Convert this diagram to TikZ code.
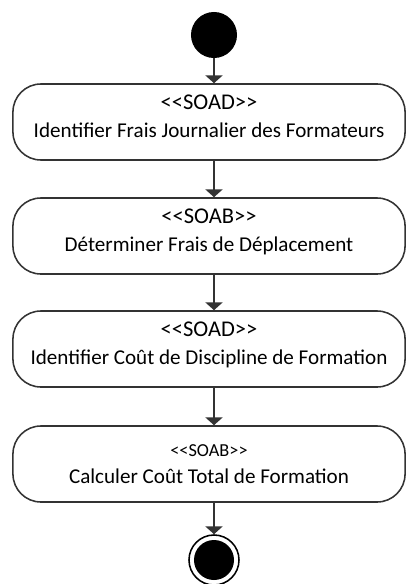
\documentclass[tikz,border=0pt]{standalone}
\usepackage{fontspec}
\setmainfont{Carlito}
\usetikzlibrary{arrows.meta, positioning}
\colorlet{linegray}{black!80}
\newcommand{\stereo}[1]{{<}{<}#1{>}{>}}

\begin{document}
\begin{tikzpicture}[x=0.025cm, y=-0.025cm, >={Triangle[width=12pt, length=5.5pt]},
    activity/.style={draw=linegray, line width=1.1pt, rounded corners=0.7cm,
      minimum width=9.8cm, minimum height=1.9cm, align=center, inner sep=0pt},
    flow/.style={->, draw=linegray, line width=1.1pt}]
    \useasboundingbox (0,0) rectangle (408,584);

    \node[circle, fill=black, minimum size=1.15cm, inner sep=0pt] (debut) at (214,35) {};

    \node[activity] (soad1) at (209,122)
      {\fontsize{16}{16}\selectfont \stereo{SOAD}\\[8pt] \fontsize{15}{15}\selectfont Identifier Frais Journalier des Formateurs\\[-4pt]};
    \node[activity] (soab1) at (209,236)
      {\fontsize{16}{16}\selectfont \stereo{SOAB}\\[8pt] \fontsize{15}{15}\selectfont Déterminer Frais de Déplacement\\[-4pt]};
    \node[activity] (soad2) at (209,349)
      {\fontsize{16}{16}\selectfont \stereo{SOAD}\\[8pt] \fontsize{15}{15}\selectfont Identifier Coût de Discipline de Formation\\[-4pt]};
    \node[activity] (soab2) at (209,464)
      {\fontsize{13}{13}\selectfont \stereo{SOAB}\\[7pt] \fontsize{15}{15}\selectfont Calculer Coût Total de Formation};

    \node[circle, draw=black, line width=1.1pt, minimum size=1.25cm, inner sep=0pt,
      path picture={\fill (path picture bounding box.center) circle (0.5cm);}] (fin) at (214,560) {};

    \draw[flow] (debut) -- (debut |- soad1.north);
    \draw[flow] (soad1.south -| debut) -- (soab1.north -| debut);
    \draw[flow] (soab1.south -| debut) -- (soad2.north -| debut);
    \draw[flow] (soad2.south -| debut) -- (soab2.north -| debut);
    \draw[flow] (soab2.south -| debut) -- (fin);
\end{tikzpicture}
\end{document}
